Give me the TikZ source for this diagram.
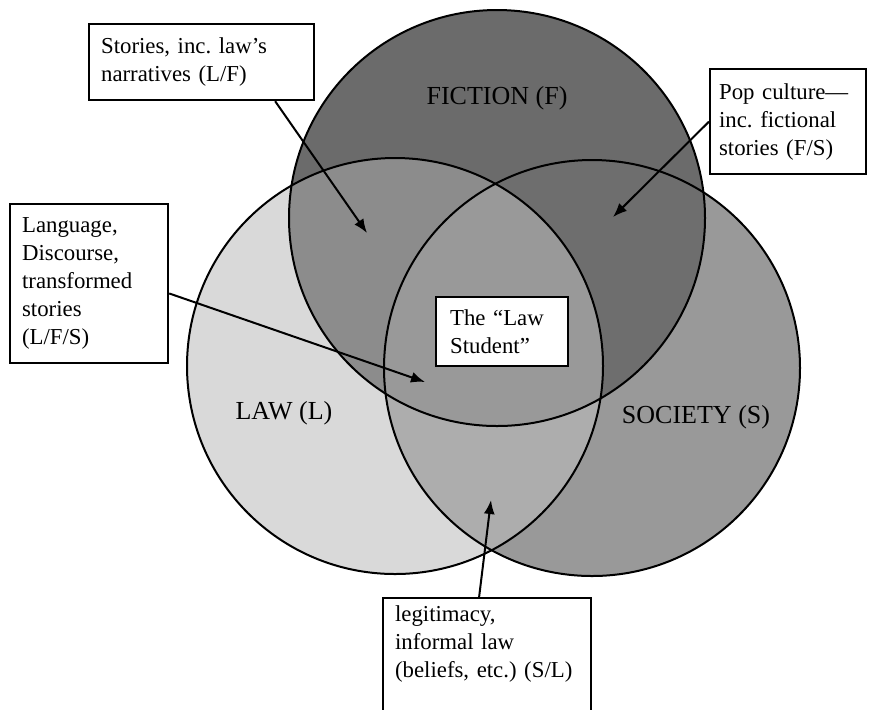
\documentclass[tikz,border=0pt]{standalone}
\usepackage{fontspec}
\setmainfont{Liberation Serif}
\usetikzlibrary{arrows.meta}

\newcommand{\notefont}{\fontsize{11.4}{14}\selectfont\frenchspacing}
\newcommand{\setfont}{\fontsize{13}{15}\selectfont}
\colorlet{lawcol}{black!15}
\colorlet{ficcol}{black!58}
\colorlet{soccol}{black!40}
\colorlet{lfcol}{black!45}
\colorlet{fscol}{black!57}
\colorlet{lscol}{black!32}
\colorlet{lfscol}{black!40}

\begin{document}
\begin{tikzpicture}[x=0.5pt,y=-0.5pt,
    note/.style={draw, line width=1.1pt, fill=white, align=left, anchor=north west,
        inner xsep=6pt, inner ysep=4pt, font=\notefont},
    ring/.style={line width=1pt},
    pointer/.style={line width=1pt, -{Latex[length=7pt,width=5.5pt]}}]
        \clip (0,0) rectangle (877,709);
        \coordinate (F) at (497,218);
        \coordinate (L) at (395,366);
        \coordinate (S) at (592,368);

        % the three sets and their overlaps
        \fill[ficcol] (F) circle (104pt);
        \fill[lawcol] (L) circle (104pt);
        \fill[soccol] (S) circle (104pt);
        \begin{scope}
            \clip (L) circle (104pt);
            \fill[lfcol] (F) circle (104pt);
            \fill[lscol] (S) circle (104pt);
        \end{scope}
        \begin{scope}
            \clip (F) circle (104pt);
            \fill[fscol] (S) circle (104pt);
        \end{scope}
        \begin{scope}
            \clip (L) circle (104pt);
            \clip (F) circle (104pt);
            \fill[lfscol] (S) circle (104pt);
        \end{scope}
        \draw[ring] (F) circle (104pt);
        \draw[ring] (L) circle (104pt);
        \draw[ring] (S) circle (104pt);

        \node[font=\setfont] (fic) at (497,98) {FICTION (F)};
        \node[font=\setfont] (law) at (284,413) {LAW (L)};
        \node[font=\setfont] (soc) at (696,417) {SOCIETY (S)};

        % callouts
        \node[note, text width=100.5pt, minimum height=38pt] (stories) at (88,23)
            {Stories, inc. law’s\\narratives (L/F)};
        \node[note, text width=69pt, inner xsep=4.5pt, minimum height=52.5pt] (pop) at (709,68)
            {\mbox{Pop culture—}\\inc. fictional\\stories (F/S)};
        \node[note, text width=67pt, minimum height=79.5pt] (lang) at (9,203)
            {Language,\\Discourse,\\transformed\\stories\\(L/F/S)};
        \node[note, text width=52pt, inner xsep=7pt, minimum height=34.5pt] (student) at (435,296)
            {The “Law\\Student”};
        \node[note, text width=92pt, text depth=62pt] (legit) at (382,597)
            {legitimacy,\\informal law\\(beliefs, etc.) (S/L)};

        \coordinate (lftip) at (367,233);
        \coordinate (fstip) at (613,217);
        \coordinate (lfstip) at (425,382);
        \coordinate (lstip) at (491,500);
        \draw[pointer] (stories.-28) -- (lftip);
        \draw[pointer] (pop.west) -- (fstip);
        \draw[pointer] (lang.-7) -- (lfstip);
        \draw[pointer] ([xshift=-4pt]legit.north) -- (lstip);
\end{tikzpicture}
\end{document}
